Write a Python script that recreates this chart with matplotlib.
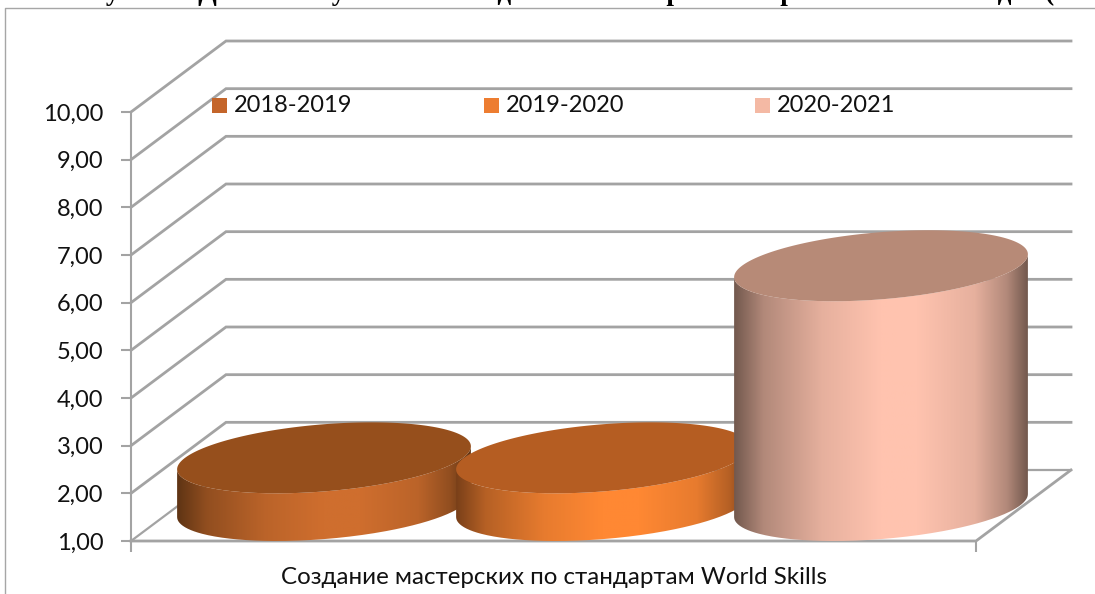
import numpy as np
import matplotlib
matplotlib.use("Agg")
import matplotlib.pyplot as plt
from matplotlib.path import Path
from matplotlib.patches import PathPatch, Rectangle
from matplotlib.colors import LinearSegmentedColormap
from matplotlib.ticker import FixedLocator, FixedFormatter

series_names = ["2018-2019", "2019-2020", "2020-2021"]
series_values = [2.0, 2.0, 6.03]
category = "Создание мастерских по стандартам World Skills"
y_ticks = [1, 2, 3, 4, 5, 6, 7, 8, 9, 10]
y_labels = ["1,00", "2,00", "3,00", "4,00", "5,00", "6,00", "7,00", "8,00", "9,00", "10,00"]
title_text = "Рисунок 3. Динамика усилий по созданию   мастерских   в рамках 2018-21 годах (за 3"

legend_colors = ["#C4652A", "#ED7D31", "#F4B9A4"]
edge_colors = ["#5F3414", "#7A4019", "#73594E"]
center_colors = ["#CF6E2E", "#FF8833", "#FFC3AF"]
top_colors = ["#964F1C", "#B55D22", "#B78A77"]

W, H = 1095, 594
LEFT, RIGHT, BOTTOM, TOP = 131, 976, 541, 112
DX, DY = 95, 71 / ((541 - 112) / 9)   # depth: px in x, value units in y
BAR_X = [324 - LEFT, 603 - LEFT, 881 - LEFT]
BAR_A = 139
GRID = "#A3A3A3"

plt.rcParams["font.family"] = ["Lato", "DejaVu Sans"]
fig = plt.figure(figsize=(W / 100, H / 100), dpi=100)
ax = fig.add_axes([LEFT / W, 1 - BOTTOM / H, (W - LEFT) / W, (BOTTOM - TOP) / H])
ax.set_xlim(0, W - LEFT)
ax.set_ylim(1, 10)
ax.patch.set_alpha(0)
for s in ["top", "right", "bottom"]:
    ax.spines[s].set_visible(False)
ax.spines["left"].set_color(GRID)
ax.spines["left"].set_linewidth(1.5)

ax.yaxis.set_major_locator(FixedLocator(y_ticks))
ax.yaxis.set_major_formatter(FixedFormatter(y_labels))
ax.tick_params(axis="y", length=7, width=1.5, color=GRID, labelsize=17, pad=13, labelcolor="#111111")
ax.set_xticks([0, RIGHT - LEFT])
ax.set_xticklabels(["", ""])
ax.tick_params(axis="x", length=8, width=1.5, color=GRID)

# walls and floor
for v in y_ticks:
    ax.plot([0, DX, RIGHT - LEFT + DX], [v, v + DY, v + DY], color=GRID, lw=2.0 if v > 1 else 1.6,
            clip_on=False, zorder=1, solid_joinstyle="miter")
ax.plot([0, RIGHT - LEFT, RIGHT - LEFT + DX], [1, 1, 1 + DY], color=GRID, lw=2.0, clip_on=False, zorder=1)

# cylinders
t = np.linspace(0, 2 * np.pi, 361)
def ring(cx, base, tt):
    return (cx + BAR_A * np.cos(tt) + DX / 2 * np.sin(tt), base + DY / 2 + DY / 2 * np.sin(tt))

tl = np.arctan2(DX / 2, BAR_A)   # angle of rightmost silhouette point
for i, (cx, val) in enumerate(zip(BAR_X, series_values)):
    z = 3 + i
    front = np.linspace(tl - np.pi, tl, 181)
    xb, yb = ring(cx, 1, front)
    xt, yt = ring(cx, val, front[::-1])
    verts = np.r_[np.c_[xb, yb], np.c_[xt, yt], [[xb[0], yb[0]]]]
    cm = LinearSegmentedColormap.from_list("c", [edge_colors[i], center_colors[i]])
    x0, x1 = verts[:, 0].min(), verts[:, 0].max()
    g = np.interp(np.linspace(0, 1, 300), [0, .1, .3, .5, .62, .82, .93, 1],
                  [0, .45, .82, 1, 1, .82, .45, 0])[None, :]
    im = ax.imshow(g, cmap=cm, extent=(x0, x1, 1, val + DY + .2), aspect="auto", zorder=z,
                   interpolation="bilinear", vmin=0, vmax=1)
    clip = PathPatch(Path(verts), transform=ax.transData, fc="none", ec="none")
    ax.add_patch(clip)
    im.set_clip_path(clip)
    xe, ye = ring(cx, val, t)
    ax.fill(xe, ye, color=top_colors[i], lw=0, zorder=z + .5, clip_on=False)
ax.set_xlim(0, W - LEFT)
ax.set_ylim(1, 10)

# overlay in pixel space for legend, border, title and category label
ov = fig.add_axes([0, 0, 1, 1], zorder=10)
ov.set_xlim(0, W)
ov.set_ylim(H, 0)
ov.axis("off")
ov.patch.set_alpha(0)
ov.plot([W, 4.5, 4.5], [7.5, 7.5, H], color="#A6A6A6", lw=1.0, clip_on=False)
for x, c, name in zip([212, 484, 755], legend_colors, series_names):
    ov.add_patch(Rectangle((x, 98), 15, 15, fc=c, ec="none"))
    ov.text(x + 22, 105, name, fontsize=17, va="center", ha="left", color="#111111")
ov.text(554, 577, category, fontsize=17.4, ha="center", va="center", color="#111111")
ov.text(62, 0, title_text, family=["Liberation Serif"], weight="bold", fontsize=19.5, ha="left", va="baseline",
        color="black", clip_on=False)
fig.savefig("out.png", dpi=100, facecolor="white")
